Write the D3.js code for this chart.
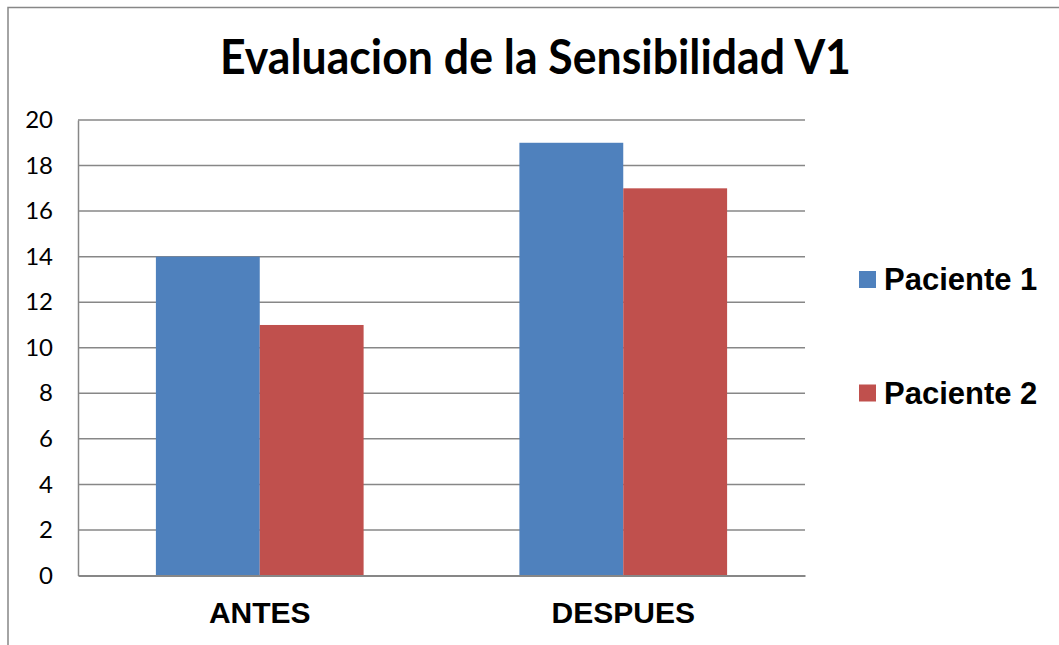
<!DOCTYPE html>
<html>
<head>
<meta charset="utf-8">
<script src="https://cdn.jsdelivr.net/npm/d3@7"></script>
<style>
  body { margin: 0; background: #fff; }
  svg { display: block; }
</style>
</head>
<body>
<div id="chart"></div>
<script>
// data
const categories = ["ANTES", "DESPUES"];
const seriesNames = ["Paciente 1", "Paciente 2"];
const paciente1 = [14, 19];
const paciente2 = [11, 17];
const yTicks = [0, 2, 4, 6, 8, 10, 12, 14, 16, 18, 20];
const colors = ["#4F81BD", "#C0504D"];

const width = 1059, height = 645;
const plot = {left: 78, right: 805, top: 120, bottom: 575.5};

const svg = d3.select("#chart").append("svg")
    .attr("width", width)
    .attr("height", height);

// outer chart frame (runs past the right and bottom edges)
svg.append("rect")
    .attr("x", 8).attr("y", 7.5)
    .attr("width", 1200).attr("height", 800)
    .attr("fill", "none")
    .attr("stroke", "#878787")
    .attr("stroke-width", 1.5);

svg.append("text")
    .attr("x", 535.5).attr("y", 74)
    .attr("text-anchor", "middle")
    .attr("font-family", "Lato, sans-serif")
    .attr("font-weight", "bold")
    .attr("font-size", 47)
    .attr("textLength", 631)
    .attr("lengthAdjust", "spacingAndGlyphs")
    .text("Evaluacion de la Sensibilidad V1");

const y = d3.scaleLinear().domain([0, 20]).range([plot.bottom, plot.top]);
const x0 = d3.scaleBand().domain(categories).range([plot.left, plot.right]);
const x1 = d3.scaleBand().domain(seriesNames).range([0, x0.bandwidth()])
    .paddingInner(0).paddingOuter(0.75);

// gridlines
svg.append("g")
    .selectAll("line")
    .data(yTicks.filter(d => d > 0))
    .enter()
    .append("line")
    .attr("x1", plot.left).attr("x2", plot.right)
    .attr("y1", d => y(d)).attr("y2", d => y(d))
    .attr("stroke", "#878787")
    .attr("stroke-width", 1.5);

// y axis
const yAxis = svg.append("g")
    .attr("transform", `translate(${plot.left},0)`)
    .call(d3.axisLeft(y).tickValues(yTicks).tickSize(0).tickPadding(25));
yAxis.select(".domain").attr("stroke", "#878787").attr("stroke-width", 1.5);
yAxis.selectAll("text")
    .attr("font-family", "Lato, sans-serif")
    .attr("font-size", 24)
    .attr("fill", "#000");

// bars
const rows = categories.map((c, i) => ({cat: c, vals: [paciente1[i], paciente2[i]]}));
svg.append("g")
    .selectAll("g")
    .data(rows)
    .enter()
    .append("g")
    .attr("transform", d => `translate(${x0(d.cat)},0)`)
    .selectAll("rect")
    .data(d => d.vals.map((v, j) => ({name: seriesNames[j], value: v, color: colors[j]})))
    .enter()
    .append("rect")
    .attr("x", d => x1(d.name))
    .attr("width", x1.bandwidth())
    .attr("y", d => y(d.value))
    .attr("height", d => y(0) - y(d.value))
    .attr("fill", d => d.color);

// x axis
const xAxis = svg.append("g")
    .attr("transform", `translate(0,${plot.bottom})`)
    .call(d3.axisBottom(x0).tickSize(0).tickPadding(26));
xAxis.select(".domain").attr("stroke", "#878787").attr("stroke-width", 2);
xAxis.selectAll("text")
    .attr("font-family", "Liberation Sans, Arial, sans-serif")
    .attr("font-weight", "bold")
    .attr("font-size", 30)
    .attr("fill", "#000");

// legend
const legend = svg.append("g")
    .selectAll("g")
    .data(seriesNames)
    .enter()
    .append("g")
    .attr("transform", (d, i) => `translate(859,${271 + i * 113.5})`);
legend.append("rect")
    .attr("width", 17).attr("height", 17)
    .attr("fill", (d, i) => colors[i]);
legend.append("text")
    .attr("x", 25).attr("y", 19)
    .attr("font-family", "Liberation Sans, Arial, sans-serif")
    .attr("font-weight", "bold")
    .attr("font-size", 31)
    .text(d => d);
</script>
</body>
</html>
